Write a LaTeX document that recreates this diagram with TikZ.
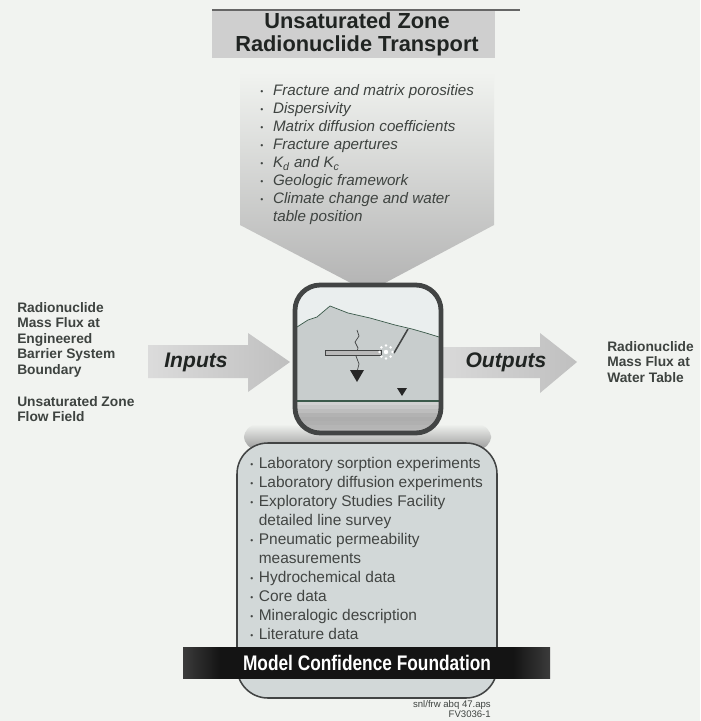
\documentclass[tikz,border=0pt]{standalone}
\usepackage{fontspec}
\setmainfont{Liberation Sans}
\usetikzlibrary{positioning}

\definecolor{paper}{RGB}{241,243,240}
\definecolor{inkdark}{RGB}{32,36,34}
\definecolor{inkgray}{RGB}{62,67,64}
\definecolor{framegray}{RGB}{66,68,68}
\definecolor{boxfill}{RGB}{210,216,216}
\definecolor{skyfill}{RGB}{234,238,238}
\definecolor{soilfill}{RGB}{200,205,205}
\definecolor{wtline}{RGB}{60,90,75}

\newcommand{\setfs}[2]{\fontsize{#1}{#2}\selectfont}
\newcommand{\dotbul}{\raisebox{1pt}{\setfs{6}{6}\textbullet}}

\pgfdeclarehorizontalshading{bandshade}{100bp}{color(0bp)=(gray!30); color(12bp)=(gray!75); color(30bp)=(black!92); color(70bp)=(black!92); color(88bp)=(gray!75); color(100bp)=(gray!15)}

\tikzset{
  titletext/.style={font=\bfseries\setfs{15.5}{16.5}, text=inkdark, align=center, inner sep=0pt},
  sidelabel/.style={font=\bfseries\setfs{9.8}{11}, text=inkgray, align=left, inner sep=0pt},
  arrowtext/.style={font=\bfseries\itshape\setfs{15}{16}, text=inkdark, inner sep=0pt},
  toplist/.style={font=\itshape\setfs{10.8}{12.8}, text=inkgray, inner sep=0pt},
  baselist/.style={font=\setfs{11}{13.5}, text=inkdark!85, inner sep=0pt},
  fatarrow/.style={left color=gray!28, right color=gray!50}
}

\begin{document}
\begin{tikzpicture}[x=0.025cm,y=-0.025cm]
	\fill[paper] (0,0) rectangle (700,721);

	% title plate
	\fill[gray!38] (212,10) rectangle (495,58);
	\draw[line width=1.2pt, gray!80!black] (212,10) -- (520,10);
	\node[titletext] (title) at (357,34) {Unsaturated Zone\\Radionuclide Transport};

	% parameters pouring down into the model
	\shade[top color=paper, bottom color=gray!60] (240,72) -- (494,72) -- (494,225) -- (368,292) -- (240,225) -- cycle;
	\node[toplist, anchor=north west] (topList) at (260,83) {%
		\begin{tabular}{@{}l@{\hspace{7pt}}l@{}}
		\dotbul & Fracture and matrix porosities\\
		\dotbul & Dispersivity\\
		\dotbul & Matrix diffusion coefficients\\
		\dotbul & Fracture apertures\\
		\dotbul & K\textsubscript{d} and K\textsubscript{c}\\
		\dotbul & Geologic framework\\
		\dotbul & Climate change and water\\
		        & table position
		\end{tabular}};

	% side arrows
	\shade[fatarrow] (148,345) -- (248,345) -- (248,333) -- (290,362) -- (248,392) -- (248,378) -- (148,378) -- cycle;
	\shade[fatarrow] (430,347) -- (540,347) -- (540,333) -- (577,362) -- (540,393) -- (540,378) -- (430,378) -- cycle;
	\node[arrowtext] (inArrow) at (196,362) {Inputs};
	\node[arrowtext] (outArrow) at (506,362) {Outputs};

	\node[sidelabel, anchor=north west] (inLabel) at (17,302) {Radionuclide\\Mass Flux at\\Engineered\\Barrier System\\Boundary};
	\node[sidelabel, anchor=north west] (flowLabel) at (17,396) {Unsaturated Zone\\Flow Field};
	\node[sidelabel, anchor=west] (outLabel) at (607,362) {Radionuclide\\Mass Flux at\\Water Table};

	% foundation box
	\shade[top color=paper, bottom color=gray!80, rounded corners=10] (244,424) rectangle (491,450);
	\draw[framegray, line width=1.1pt, fill=boxfill, rounded corners=22] (237,443) rectangle (497,698);
	\node[baselist, anchor=north west] (baseList) at (250,455) {%
		\begin{tabular}{@{}l@{\hspace{4pt}}l@{}}
		\dotbul & Laboratory sorption experiments\\
		\dotbul & Laboratory diffusion experiments\\
		\dotbul & Exploratory Studies Facility\\
		        & detailed line survey\\
		\dotbul & Pneumatic permeability\\
		        & measurements\\
		\dotbul & Hydrochemical data\\
		\dotbul & Core data\\
		\dotbul & Mineralogic description\\
		\dotbul & Literature data
		\end{tabular}};

	% model window: cross section
	\begin{scope}
		\clip[rounded corners=18] (295,285) rectangle (441,433);
		\fill[skyfill] (295,285) rectangle (441,433);
		\fill[soilfill] (295,328) -- (308,320) -- (317,317) -- (330,306) -- (348,313) -- (370,318) -- (395,325) -- (412,329) -- (426,333) -- (441,338) -- (441,401) -- (295,401) -- cycle;
		\foreach \y/\g in {401/36,405/44,409/52,413/60,417/64,421/62,425/58,429/55}
			\fill[gray!\g] (295,\y) rectangle (441,\y+4.3);
	\end{scope}
	\draw[wtline, line width=0.5pt] (297,327) -- (308,320) -- (317,317) -- (330,306) -- (348,313) -- (370,318) -- (395,325) -- (412,329) -- (426,333) -- (439,337);
	\draw[wtline, line width=0.9pt] (297,401) -- (439,401);
	% fracture with flow direction
	\draw[framegray, line width=0.5pt] (357,330) -- (359,336) -- (355,342) -- (358,348) -- (356,356) -- (359,364) -- (357,372);
	\fill[black!85] (350,370) -- (364,370) -- (357,382) -- cycle;
	% drift, shaft and release point
	\filldraw[fill=gray!55, draw=framegray, line width=0.4pt] (325,350) rectangle (381,355);
	\draw[framegray, line width=1.1pt] (394,353) -- (408,329);
	\fill[white] (386,352) circle (2.2);
	\foreach \a in {0,45,...,315}
		\fill[white] (386,352) ++(\a:6.5) circle (1.4);
	% water table mark
	\fill[black!85] (397,388) -- (407,388) -- (402,396) -- cycle;
	\draw[framegray, line width=3.4pt, rounded corners=18] (295,285) rectangle (441,433);

	\shade[shading=bandshade] (183,647) rectangle (550,678);
	\node[font=\bfseries\setfs{15}{16}, text=white, inner sep=0pt, xscale=0.82] (band) at (367,663) {Model Confidence Foundation};

	\node[font=\setfs{6.8}{7.6}, text=inkgray, align=right, anchor=north east, inner sep=0pt] (fileTag) at (491,700) {snl/frw abq 47.aps\\FV3036-1};
\end{tikzpicture}
\end{document}
